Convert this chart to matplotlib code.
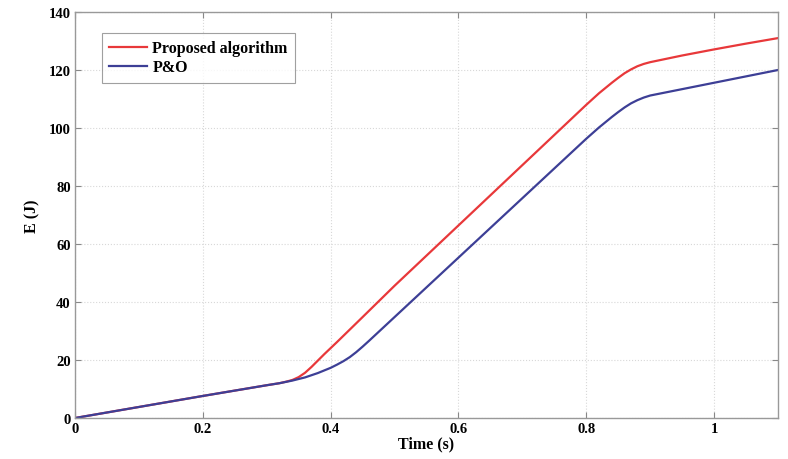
import matplotlib
matplotlib.use("Agg")
import matplotlib.pyplot as plt

# time samples (s) and energy (J)
t_prop = [0.0, 0.1, 0.2, 0.3, 0.32, 0.33, 0.34, 0.35, 0.36, 0.37, 0.38, 0.39, 0.4, 0.41, 0.45,
          0.5, 0.6, 0.7, 0.8, 0.82, 0.84, 0.85, 0.86, 0.87, 0.88, 0.89, 0.9, 0.95, 1.0, 1.05, 1.1]
e_prop = [0.0, 3.8, 7.6, 11.3, 12.0, 12.5, 13.1, 14.1, 15.6, 17.6, 19.8, 22.0, 24.1, 26.2, 34.8,
          45.6, 66.4, 87.2, 108.0, 112.0, 115.6, 117.3, 118.9, 120.2, 121.3, 122.1, 122.7,
          125.0, 127.1, 129.1, 131.0]

t_po = [0.0, 0.1, 0.2, 0.3, 0.32, 0.34, 0.36, 0.38, 0.4, 0.41, 0.42, 0.43, 0.44, 0.45,
        0.46, 0.48, 0.5, 0.6, 0.7, 0.8, 0.82, 0.84, 0.85, 0.86, 0.87, 0.88, 0.89, 0.9,
        0.95, 1.0, 1.05, 1.1]
e_po = [0.0, 3.8, 7.6, 11.3, 12.0, 12.9, 14.0, 15.5, 17.3, 18.4, 19.6, 21.0, 22.7, 24.6,
        26.6, 30.7, 34.8, 55.3, 75.8, 96.3, 100.2, 103.8, 105.5, 107.1, 108.5, 109.6, 110.5,
        111.2, 113.4, 115.6, 117.8, 120.0]

x_ticks = [0, 0.2, 0.4, 0.6, 0.8, 1]
x_labels = ["0", "0.2", "0.4", "0.6", "0.8", "1"]
y_ticks = [0, 20, 40, 60, 80, 100, 120, 140]

plt.rcParams["font.family"] = ["Liberation Serif", "DejaVu Serif"]
plt.rcParams["font.weight"] = "bold"

fig = plt.figure(figsize=(7.88, 4.6), dpi=100)
ax = fig.add_axes([75 / 788, 1 - 419 / 460, 703 / 788, 406 / 460])

ax.plot(t_prop, e_prop, color="#e8383a", linewidth=1.6, label="Proposed algorithm")
ax.plot(t_po, e_po, color="#3d3f96", linewidth=1.6, label="P&O")

ax.set_xlim(0, 1.1)
ax.set_ylim(0, 140)
ax.set_xticks(x_ticks)
ax.set_xticklabels(x_labels)
ax.set_yticks(y_ticks)
ax.grid(True, color="#d8d8d8", linestyle=":", linewidth=0.8)
ax.tick_params(direction="in", top=True, right=True, length=4, color="#888888",
               labelsize=10.5, pad=3)
for lbl in ax.get_xticklabels() + ax.get_yticklabels():
    lbl.set_fontweight("bold")
for sp in ax.spines.values():
    sp.set_color("#999999")
    sp.set_linewidth(1.0)

ax.set_xlabel("Time (s)", fontsize=11.5, fontweight="bold", labelpad=0)
ax.set_ylabel("E (J)", fontsize=11.5, fontweight="bold", labelpad=6)

leg = ax.legend(loc="upper left", bbox_to_anchor=(0.027, 0.968), fontsize=11.5,
                frameon=True, fancybox=False, edgecolor="#888888", handlelength=2.4,
                borderpad=0.45, labelspacing=0.2, handletextpad=0.3)
leg.get_frame().set_linewidth(0.8)
for txt in leg.get_texts():
    txt.set_fontweight("bold")

fig.savefig("out.png", dpi=100)
